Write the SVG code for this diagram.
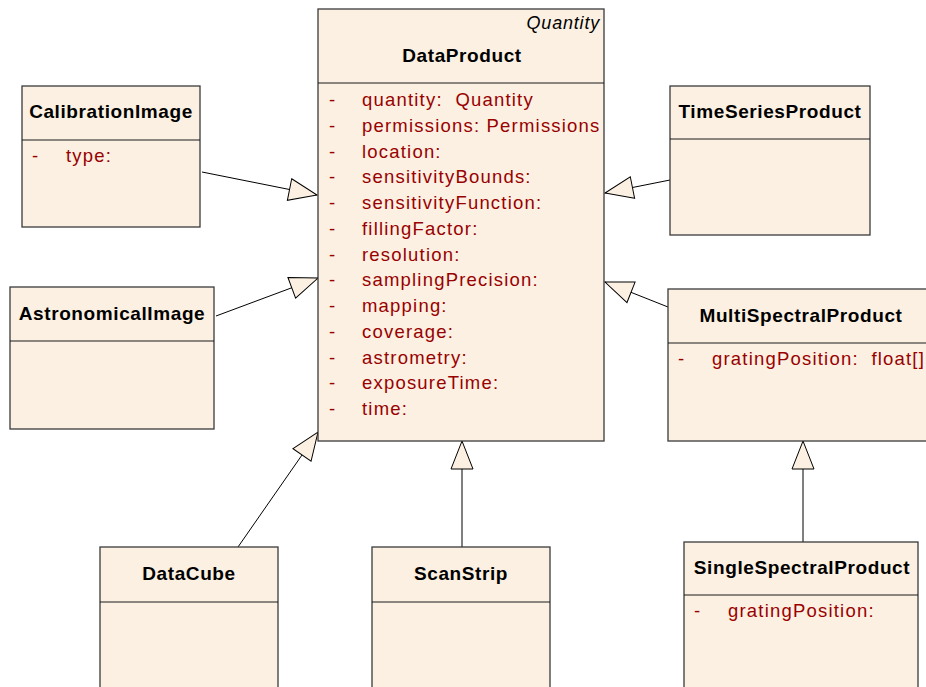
<svg xmlns="http://www.w3.org/2000/svg" width="926" height="687" viewBox="0 0 926 687">
<style>
.box{fill:#FBF0E2;stroke:#3a3a3a;stroke-width:1.3}
.div{stroke:#1a1a1a;stroke-width:1.2}
.title{font-family:"Liberation Sans",Arial,sans-serif;font-weight:bold;font-size:19px;letter-spacing:0.6px;fill:#000;text-anchor:middle}
.attr{font-family:"Liberation Sans",Arial,sans-serif;font-size:18.5px;letter-spacing:1.2px;fill:#990000}
.stereo{font-family:"Liberation Sans",Arial,sans-serif;font-style:italic;font-size:18px;letter-spacing:0.8px;fill:#000;text-anchor:end}
.conn{stroke:#000;stroke-width:1;fill:none;marker-end:url(#gen)}
</style>
<defs>
<marker id="gen" markerUnits="userSpaceOnUse" markerWidth="30" markerHeight="24" refX="28" refY="11" orient="auto" overflow="visible">
<path d="M0,0 L28,11 L0,22 Z" fill="#FBF0E2" stroke="#000" stroke-width="1"/>
</marker>
</defs>
<rect width="926" height="687" fill="#fff"/>
<g id="connectors">
<line class="conn" x1="202" y1="172" x2="317" y2="195"/>
<line class="conn" x1="216" y1="316" x2="318" y2="278"/>
<line class="conn" x1="238" y1="547" x2="318" y2="432"/>
<line class="conn" x1="462" y1="547" x2="462" y2="441"/>
<line class="conn" x1="670" y1="180" x2="605" y2="193"/>
<line class="conn" x1="668" y1="307" x2="605" y2="282"/>
<line class="conn" x1="803" y1="542" x2="803" y2="441"/>
</g>
<g id="DataProduct">
<rect class="box" x="318" y="9" width="286" height="432"/>
<line class="div" x1="318" y1="83" x2="604" y2="83"/>
<text class="stereo" x="600" y="29">Quantity</text>
<text class="title" x="462" y="62">DataProduct</text>
<g class="attr">
<text x="329" y="106">-</text><text x="362" y="106">quantity:&#160; Quantity</text>
<text x="329" y="131.75">-</text><text x="362" y="131.75">permissions: Permissions</text>
<text x="329" y="157.5">-</text><text x="362" y="157.5">location:</text>
<text x="329" y="183.25">-</text><text x="362" y="183.25">sensitivityBounds:</text>
<text x="329" y="209">-</text><text x="362" y="209">sensitivityFunction:</text>
<text x="329" y="234.75">-</text><text x="362" y="234.75">fillingFactor:</text>
<text x="329" y="260.5">-</text><text x="362" y="260.5">resolution:</text>
<text x="329" y="286.25">-</text><text x="362" y="286.25">samplingPrecision:</text>
<text x="329" y="312">-</text><text x="362" y="312">mapping:</text>
<text x="329" y="337.75">-</text><text x="362" y="337.75">coverage:</text>
<text x="329" y="363.5">-</text><text x="362" y="363.5">astrometry:</text>
<text x="329" y="389.25">-</text><text x="362" y="389.25">exposureTime:</text>
<text x="329" y="415">-</text><text x="362" y="415">time:</text>
</g>
</g>
<g id="CalibrationImage">
<rect class="box" x="22" y="86" width="178" height="141"/>
<line class="div" x1="22" y1="140" x2="200" y2="140"/>
<text class="title" x="111" y="118">CalibrationImage</text>
<text class="attr" x="32" y="162">-</text><text class="attr" x="66" y="162">type:</text>
</g>
<g id="TimeSeriesProduct">
<rect class="box" x="670" y="86" width="200" height="149"/>
<line class="div" x1="670" y1="139" x2="870" y2="139"/>
<text class="title" x="770" y="118">TimeSeriesProduct</text>
</g>
<g id="AstronomicalImage">
<rect class="box" x="10" y="287" width="204" height="142"/>
<line class="div" x1="10" y1="341" x2="214" y2="341"/>
<text class="title" x="112" y="320">AstronomicalImage</text>
</g>
<g id="MultiSpectralProduct">
<rect class="box" x="668" y="289" width="266" height="152"/>
<line class="div" x1="668" y1="343" x2="934" y2="343"/>
<text class="title" x="801" y="322">MultiSpectralProduct</text>
<text class="attr" x="678" y="365">-</text><text class="attr" x="712" y="365">gratingPosition:&#160; float[]</text>
</g>
<g id="DataCube">
<rect class="box" x="100" y="547" width="178" height="150"/>
<line class="div" x1="100" y1="602" x2="278" y2="602"/>
<text class="title" x="189" y="580">DataCube</text>
</g>
<g id="ScanStrip">
<rect class="box" x="372" y="547" width="178" height="150"/>
<line class="div" x1="372" y1="602" x2="550" y2="602"/>
<text class="title" x="461" y="580">ScanStrip</text>
</g>
<g id="SingleSpectralProduct">
<rect class="box" x="684" y="542" width="234" height="155"/>
<line class="div" x1="684" y1="595" x2="918" y2="595"/>
<text class="title" x="802" y="574">SingleSpectralProduct</text>
<text class="attr" x="694" y="617">-</text><text class="attr" x="728" y="617">gratingPosition:</text>
</g>
</svg>
